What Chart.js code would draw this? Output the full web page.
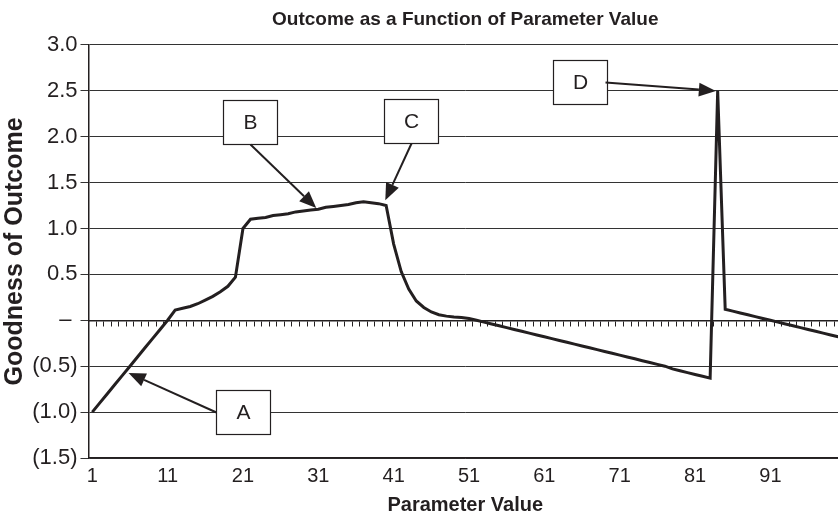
<!DOCTYPE html>
<html>
<head>
<meta charset="utf-8">
<script src="https://cdn.jsdelivr.net/npm/chart.js@4/dist/chart.umd.min.js"></script>
<style>
  html, body { margin: 0; padding: 0; background: #ffffff; overflow: hidden; width: 838px; height: 518px; }
  #wrap { width: 842px; height: 518px; position: relative; }
</style>
</head>
<body>
<div id="wrap"><canvas id="c" width="842" height="518"></canvas></div>
<script>
// ---------- data ----------
const categories = Array.from({ length: 100 }, (_, i) => String(i + 1));
const outcome = [
  -1.00, -0.90, -0.80, -0.70, -0.60, -0.50, -0.40, -0.30, -0.20, -0.10, 0.00, 0.11,
  0.13, 0.15, 0.18, 0.22, 0.26, 0.31, 0.37, 0.47,
  1.00, 1.10,
  1.11, 1.12, 1.14, 1.15, 1.16, 1.18, 1.19, 1.20, 1.21, 1.23, 1.24, 1.25, 1.26, 1.28, 1.29,
  1.28, 1.27, 1.25,
  0.83, 0.53, 0.34, 0.21, 0.14, 0.09, 0.06, 0.045, 0.035, 0.03,
  0.02, 0.00, -0.02, -0.04, -0.06, -0.08, -0.10, -0.12, -0.14, -0.16, -0.18, -0.20,
  -0.22, -0.24, -0.26, -0.28, -0.30, -0.32, -0.34, -0.36, -0.38, -0.40, -0.42, -0.44,
  -0.46, -0.48, -0.50, -0.53, -0.55, -0.57, -0.59, -0.61, -0.63,
  2.50,
  0.12,
  0.10, 0.08, 0.06, 0.04, 0.02, 0.00, -0.02, -0.04, -0.06, -0.08, -0.10, -0.12, -0.14, -0.16, -0.18
];
const yTickValues = [3.0, 2.5, 2.0, 1.5, 1.0, 0.5, 0, -0.5, -1.0, -1.5];
const yTickLabels = ['3.0', '2.5', '2.0', '1.5', '1.0', '0.5', '\u2013 ', '(0.5)', '(1.0)', '(1.5)'];

// annotation call-outs (box centre and arrow tip in data coordinates: category index, value)
const annLabels = ['A', 'B', 'C', 'D'];
const annBoxX  = [20.07, 20.93, 42.34, 64.71];
const annBoxY  = [-1.00, 2.155, 2.173, 2.59];
const annTipX  = [4.82, 29.73, 38.89, 82.76];
const annTipY  = [-0.574, 1.223, 1.307, 2.498];
const annFrom  = ['left', 'bottom', 'bottom', 'right'];

// ---------- styling ----------
const FONT = "'Liberation Sans', Arial, Helvetica, sans-serif";
const INK = '#231f20';
const BOX_W = 54, BOX_H = 44;

const calloutPlugin = {
  id: 'callouts',
  afterDraw(chart) {
    const { ctx } = chart;
    const xs = chart.scales.x, ys = chart.scales.y;
    ctx.save();
    for (let i = 0; i < annLabels.length; i++) {
      const cx = xs.getPixelForValue(annBoxX[i]);
      const cy = ys.getPixelForValue(annBoxY[i]);
      const l = Math.round(cx - BOX_W / 2) + 0.5, t = Math.round(cy - BOX_H / 2) + 0.5;
      // box
      ctx.fillStyle = '#ffffff';
      ctx.strokeStyle = INK;
      ctx.lineWidth = 1.2;
      ctx.fillRect(l, t, BOX_W, BOX_H);
      ctx.strokeRect(l, t, BOX_W, BOX_H);
      ctx.fillStyle = INK;
      ctx.font = '21px ' + FONT;
      ctx.textAlign = 'center';
      ctx.textBaseline = 'middle';
      ctx.fillText(annLabels[i], l + BOX_W / 2, t + BOX_H / 2 + 1);
      // arrow
      let sx, sy;
      if (annFrom[i] === 'left') { sx = l; sy = t + BOX_H / 2; }
      else if (annFrom[i] === 'right') { sx = l + BOX_W - 2; sy = t + BOX_H / 2; }
      else if (annFrom[i] === 'bottom') { sx = l + BOX_W / 2; sy = t + BOX_H; }
      else { sx = l + BOX_W / 2; sy = t; }
      const tx = xs.getPixelForValue(annTipX[i]);
      const ty = ys.getPixelForValue(annTipY[i]);
      const ang = Math.atan2(ty - sy, tx - sx);
      const headL = 17, headW = 7;
      const bx = tx - headL * Math.cos(ang), by = ty - headL * Math.sin(ang);
      ctx.strokeStyle = INK;
      ctx.lineWidth = 2;
      ctx.beginPath();
      ctx.moveTo(sx, sy);
      ctx.lineTo(bx, by);
      ctx.stroke();
      ctx.beginPath();
      ctx.moveTo(tx, ty);
      ctx.lineTo(bx + headW * Math.sin(ang), by - headW * Math.cos(ang));
      ctx.lineTo(bx - headW * Math.sin(ang), by + headW * Math.cos(ang));
      ctx.closePath();
      ctx.fill();
    }
    ctx.restore();
  }
};

new Chart(document.getElementById('c'), {
  type: 'line',
  data: {
    labels: categories,
    datasets: [{
      data: outcome,
      borderColor: INK,
      borderWidth: 3,
      pointRadius: 0,
      tension: 0,
      fill: false
    }]
  },
  options: {
    responsive: false,
    animation: false,
    devicePixelRatio: 1,
    layout: { padding: 0 },
    plugins: {
      legend: { display: false },
      tooltip: { enabled: false },
      title: {
        display: true,
        fullSize: false,
        text: 'Outcome as a Function of Parameter Value',
        color: INK,
        font: { family: FONT, size: 19, weight: 'bold' },
        padding: { top: 8, bottom: 14 }
      }
    },
    scales: {
      x: {
        type: 'category',
        position: 'bottom',
        offset: true,
        grid: { display: false },
        border: { display: true, color: INK, width: 1.5 },
        ticks: {
          autoSkip: false,
          maxRotation: 0,
          minRotation: 0,
          padding: -2,
          color: INK,
          font: { family: FONT, size: 20 },
          callback: (v, i) => (i % 10 === 0 ? categories[i] : '')
        },
        title: {
          display: true,
          text: 'Parameter Value',
          color: INK,
          font: { family: FONT, size: 20, weight: 'bold' },
          padding: { top: 0, bottom: 1 }
        },
        afterFit: (s) => { s.height = 60; }
      },
      x0: {
        type: 'category',
        position: { y: 0 },
        offset: true,
        grid: { drawOnChartArea: false, drawTicks: true, tickLength: 5, offset: true, color: INK, lineWidth: 1 },
        border: { display: true, color: INK, width: 1.5 },
        ticks: { display: false, autoSkip: false }
      },
      y: {
        type: 'linear',
        position: 'left',
        min: -1.5,
        max: 3.0,
        afterBuildTicks: (s) => { s.ticks = yTickValues.map(v => ({ value: v })); },
        grid: { color: '#333333', lineWidth: 1, drawTicks: true, tickLength: 8 },
        border: { display: true, color: INK, width: 1.5 },
        ticks: {
          padding: 3,
          color: INK,
          font: { family: FONT, size: 22 },
          callback: (v) => {
            const k = yTickValues.findIndex(t => Math.abs(t - v) < 1e-9);
            return k >= 0 ? yTickLabels[k] : '';
          }
        },
        title: {
          display: true,
          text: 'Goodness of Outcome',
          color: INK,
          font: { family: FONT, size: 25, weight: 'bold' },
          padding: { top: 0, bottom: 0 }
        },
        afterFit: (s) => { s.width = 88.5; }
      }
    }
  },
  plugins: [calloutPlugin]
});
</script>
</body>
</html>
